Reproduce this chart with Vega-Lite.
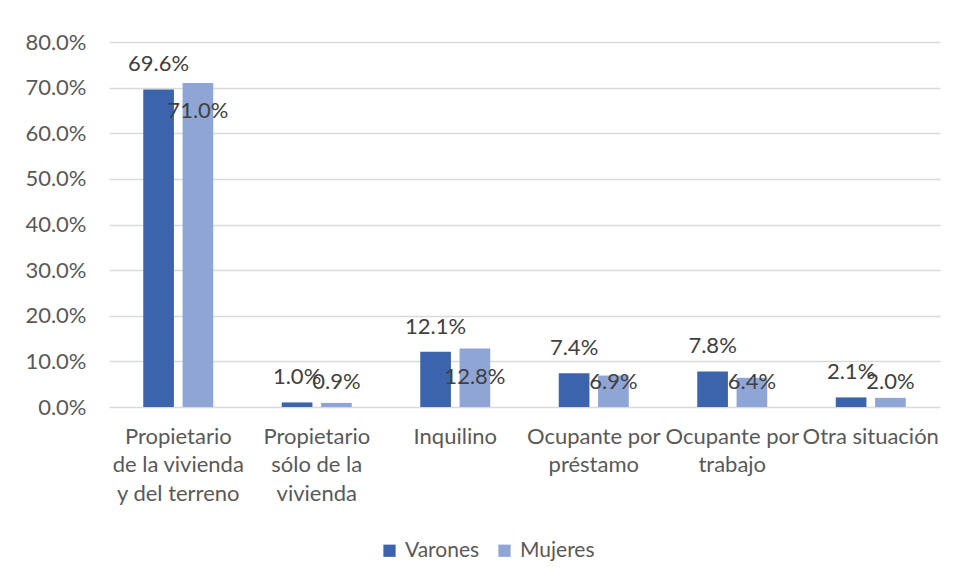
{
  "$schema": "https://vega.github.io/schema/vega-lite/v6.json",
  "width": 831,
  "height": 365,
  "autosize": {"type": "none"},
  "padding": {"left": 109, "top": 42, "right": 15, "bottom": 175},
  "background": "white",
  "config": {
    "font": "Lato",
    "view": {"stroke": null},
    "axis": {"labelFont": "Lato", "labelColor": "#595959", "labelFontSize": 22}
  },
  "data": {
    "values": [
      {"cat": "Propietario de la vivienda y del terreno", "sexo": "Varones", "value": 0.696},
      {"cat": "Propietario de la vivienda y del terreno", "sexo": "Mujeres", "value": 0.710},
      {"cat": "Propietario sólo de la vivienda", "sexo": "Varones", "value": 0.010},
      {"cat": "Propietario sólo de la vivienda", "sexo": "Mujeres", "value": 0.009},
      {"cat": "Inquilino", "sexo": "Varones", "value": 0.121},
      {"cat": "Inquilino", "sexo": "Mujeres", "value": 0.128},
      {"cat": "Ocupante por préstamo", "sexo": "Varones", "value": 0.074},
      {"cat": "Ocupante por préstamo", "sexo": "Mujeres", "value": 0.069},
      {"cat": "Ocupante por trabajo", "sexo": "Varones", "value": 0.078},
      {"cat": "Ocupante por trabajo", "sexo": "Mujeres", "value": 0.064},
      {"cat": "Otra situación", "sexo": "Varones", "value": 0.021},
      {"cat": "Otra situación", "sexo": "Mujeres", "value": 0.020}
    ]
  },
  "encoding": {
    "x": {
      "field": "cat", "type": "nominal", "sort": null,
      "scale": {"paddingInner": 0.4946, "paddingOuter": 0.2473},
      "axis": {
        "title": null, "labelAngle": 0, "domain": false, "ticks": false,
        "labelPadding": 19, "labelLineHeight": 28.5, "labelBaseline": "top",
        "labelLimit": 300, "labelOverlap": false,
        "labelExpr": "datum.value == 'Propietario de la vivienda y del terreno' ? ['Propietario', 'de la vivienda', 'y del terreno'] : datum.value == 'Propietario sólo de la vivienda' ? ['Propietario', 'sólo de la', 'vivienda'] : datum.value == 'Ocupante por préstamo' ? ['Ocupante por', 'préstamo'] : datum.value == 'Ocupante por trabajo' ? ['Ocupante por', 'trabajo'] : datum.value"
      }
    },
    "xOffset": {
      "field": "sexo", "type": "nominal", "sort": ["Varones", "Mujeres"],
      "scale": {"paddingInner": 0.22, "paddingOuter": 0}
    },
    "y": {
      "field": "value", "type": "quantitative",
      "scale": {"domain": [0, 0.8], "nice": false},
      "axis": {
        "title": null, "format": ".1%", "values": [0, 0.1, 0.2, 0.3, 0.4, 0.5, 0.6, 0.7, 0.8],
        "labelOverlap": false,
        "domain": false, "ticks": false, "labelPadding": 23,
        "gridColor": "#d9d9d9", "gridWidth": 1.3
      }
    }
  },
  "layer": [
    {
      "mark": {"type": "bar"},
      "encoding": {
        "color": {
          "field": "sexo", "type": "nominal", "sort": ["Varones", "Mujeres"],
          "scale": {"domain": ["Varones", "Mujeres"], "range": ["#3B64AD", "#8FA5D6"]},
          "legend": {
            "title": null, "orient": "none", "direction": "horizontal",
            "legendX": 270, "legendY": 498,
            "symbolType": "square", "symbolSize": 150, "symbolStrokeWidth": 0,
            "labelFontSize": 21, "labelColor": "#595959", "labelFont": "Lato",
            "columnPadding": 14, "labelOffset": 5
          }
        }
      }
    },
    {
      "transform": [{"filter": "datum.sexo == 'Varones'"}],
      "mark": {"type": "text", "dy": -25, "baseline": "middle", "fontSize": 22, "color": "#404040", "font": "Lato"},
      "encoding": {"text": {"field": "value", "type": "quantitative", "format": ".1%"}}
    },
    {
      "transform": [{"filter": "datum.sexo == 'Mujeres' && datum.value >= 0.1"}],
      "mark": {"type": "text", "dy": 28, "baseline": "middle", "fontSize": 22, "color": "#404040", "font": "Lato"},
      "encoding": {"text": {"field": "value", "type": "quantitative", "format": ".1%"}}
    },
    {
      "transform": [{"filter": "datum.sexo == 'Mujeres' && datum.value < 0.1"}],
      "mark": {"type": "text", "baseline": "middle", "fontSize": 22, "color": "#404040", "font": "Lato"},
      "encoding": {
        "y": {"datum": 0.054, "type": "quantitative"},
        "text": {"field": "value", "type": "quantitative", "format": ".1%"}
      }
    }
  ]
}
